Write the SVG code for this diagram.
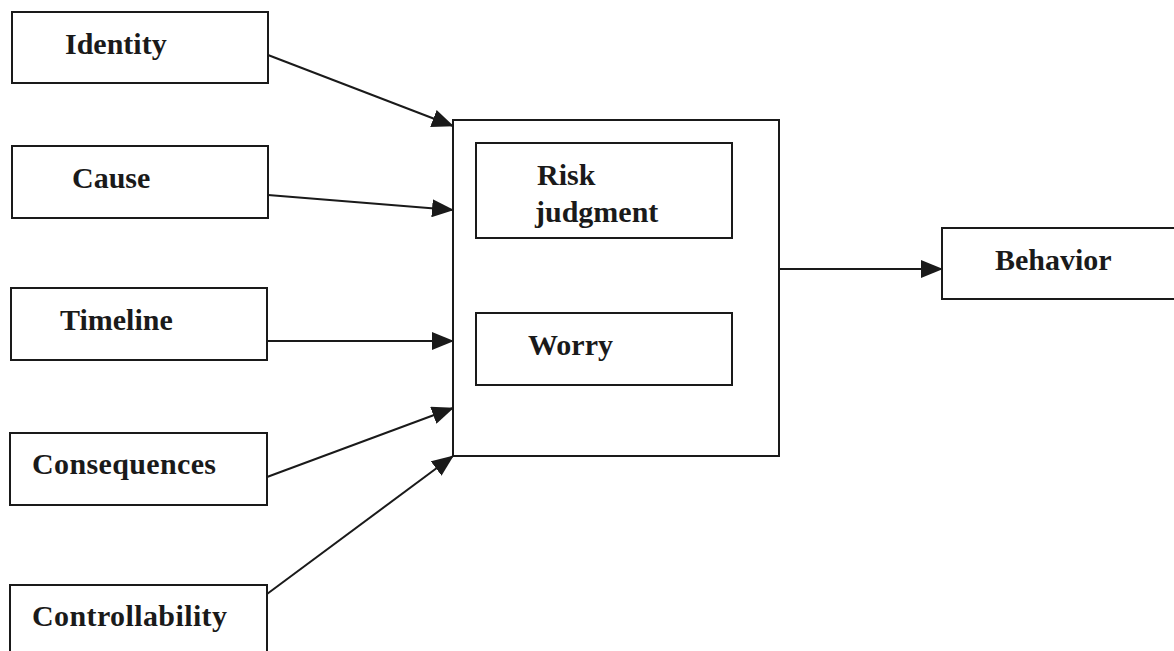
<svg xmlns="http://www.w3.org/2000/svg" width="1174" height="651" viewBox="0 0 1174 651">
<style>
.box{fill:none;stroke:#1a1a1a;stroke-width:2}
.lbl{font-family:"Liberation Serif","Times New Roman",serif;font-weight:bold;font-size:30px;fill:#1a1a1a}
.conn{stroke:#1a1a1a;stroke-width:2;fill:none;marker-end:url(#ah)}
</style>
<defs>
<marker id="ah" markerUnits="userSpaceOnUse" markerWidth="22" markerHeight="18" refX="21" refY="9" orient="auto">
<path d="M0,0 L22,9 L0,18 Z" fill="#1a1a1a"/>
</marker>
</defs>
<rect width="1174" height="651" fill="#ffffff"/>
<g id="identity"><rect class="box" x="12" y="12" width="256" height="71"/><text class="lbl" x="65" y="54">Identity</text></g>
<g id="cause"><rect class="box" x="12" y="146" width="256" height="72"/><text class="lbl" x="72" y="188">Cause</text></g>
<g id="timeline"><rect class="box" x="11" y="288" width="256" height="72"/><text class="lbl" x="60" y="330">Timeline</text></g>
<g id="consequences"><rect class="box" x="10" y="433" width="257" height="72"/><text class="lbl" x="32" y="474" textLength="184">Consequences</text></g>
<g id="controllability"><rect class="box" x="10" y="585" width="257" height="80"/><text class="lbl" x="32" y="626" textLength="195">Controllability</text></g>
<g id="appraisal"><rect class="box" x="453" y="120" width="326" height="336"/></g>
<g id="risk-judgment"><rect class="box" x="476" y="143" width="256" height="95"/><text class="lbl" x="537" y="185">Risk</text><text class="lbl" x="535" y="222">judgment</text></g>
<g id="worry"><rect class="box" x="476" y="313" width="256" height="72"/><text class="lbl" x="528" y="355">Worry</text></g>
<g id="behavior"><rect class="box" x="942" y="228" width="240" height="71"/><text class="lbl" x="995" y="270">Behavior</text></g>
<g id="connectors">
<line class="conn" x1="268" y1="55" x2="453" y2="126"/>
<line class="conn" x1="268" y1="195" x2="453" y2="210"/>
<line class="conn" x1="267" y1="341" x2="453" y2="341"/>
<line class="conn" x1="267" y1="477" x2="453" y2="408"/>
<line class="conn" x1="267" y1="594" x2="453" y2="456"/>
<line class="conn" x1="779" y1="269" x2="942" y2="269"/>
</g>
</svg>
